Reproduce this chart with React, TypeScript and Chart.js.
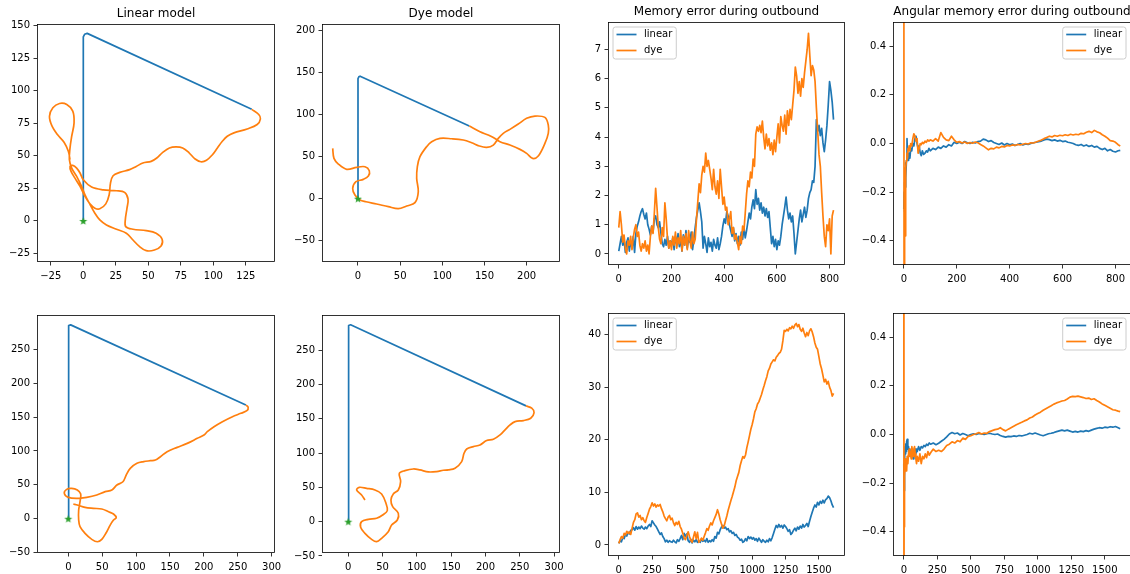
import React, { useEffect, useRef } from "react";
import { Chart, registerables } from "chart.js";

Chart.register(...registerables);

type Pt = [number, number];

// ---------- colours ----------
const C_LINEAR = "#1f77b4";
const C_DYE = "#ff7f0e";
const C_NEST = "#2ca02c";

// ---------- titles & series names ----------
const TITLES = ["Linear model", "Dye model", "Memory error during outbound", "Angular memory error during outbound"];
const SERIES_LABELS = ["linear", "dye"];

// ---------- nest position ----------
const nest: Pt[] = [[0, 0]];

// ---------- trajectories, run 1 ----------
const linearOutbound1: Pt[] = [[0, 0], [0, 141.5], [1, 143.5], [3, 144.2], [129.5, 85.8]];
const linearInbound1: Pt[] = [
  [129.5, 85.8], [134.9, 81.8], [136.2, 78.5], [133.7, 74.1], [126, 70.7], [115.8, 67.7], [110.7, 65.1],
  [106.9, 61.2], [103.1, 56.1], [99.3, 50.9], [94.7, 46.6], [90.4, 45.5], [86, 47.6], [81.5, 52.2],
  [76.4, 56.1], [71.3, 56.9], [66.2, 56.1], [61.1, 52.7], [56.5, 48.4], [52.2, 45.8], [45.8, 44.5],
  [40.7, 41.9], [35.6, 39.4], [28, 37.3], [22.9, 34.7], [20.9, 29.1], [19.9, 20.1], [17.3, 13.1],
  [12.7, 9.3], [8.9, 9.8], [5.1, 13.1], [1.3, 18.8], [-2.5, 26.5], [-6.4, 32.9], [-9.4, 38.1],
  [-10.2, 41.9], [-8.1, 42.7], [-5.1, 40.6], [-2.5, 36.8], [0, 31.6], [6.4, 26], [15.3, 23.9],
  [25.5, 23.2], [31.8, 21.9], [34.4, 16.7], [33.6, 9.8], [32.3, 0.8], [32.6, -4.4], [38.2, -6.4],
  [48.4, -7.5], [56, -9.5], [60.6, -14.1], [59.8, -19.3], [54.7, -22.4], [48.4, -22.9], [43.3, -19.8],
  [38.2, -14.7], [33.1, -9.5], [25.5, -6.4], [17.8, -3.1], [12.7, 0.8], [8.9, 5.9], [4.6, 13.6],
  [1.3, 20.1], [-1.3, 26.5], [-5.1, 34.2], [-8.9, 40.6], [-10.7, 47.1], [-10.2, 56.1], [-8.9, 65.1],
  [-7.1, 75.4], [-8.1, 84.4], [-12.7, 89.5], [-18.3, 90.3], [-23.4, 87], [-26, 80.5], [-24.2, 73.3],
  [-19.9, 66.4], [-14.8, 60.5], [-11.5, 53.5], [-10.2, 47.1],
];
const dyeOutbound1: Pt[] = [[0, 0], [0, 142.5], [1, 144.5], [2.5, 145.3], [132, 86.2]];
const dyeInbound1: Pt[] = [
  [132, 86.2], [144.7, 79.4], [154.5, 75.5], [160.5, 72.7], [168.4, 67.6], [180.2, 63.6], [192.1, 58.5],
  [200, 53.8], [207.1, 47.8], [213.8, 50.6], [221.7, 65.6], [225.7, 77.5], [225.7, 87.4], [221.7, 96.4],
  [209.9, 98], [200, 95.3], [190.1, 88.5], [180.2, 82.2], [172.3, 77.5], [166.4, 71.5], [160.5, 63.6],
  [152.6, 60.9], [143.9, 62.5], [134.8, 66.4], [124.9, 69.6], [111.1, 71.1], [97.2, 71.5], [87.4, 67.6],
  [81.4, 61.7], [73.5, 49.8], [70.4, 37.9], [69.6, 24.1], [71.5, 8.3], [67.6, -4.7], [57.7, -8.7],
  [47.8, -11.9], [36, -9.5], [22.1, -6.3], [9.5, -3.6], [2.4, -1.6], [-3.6, 4.3], [-6.3, 12.3],
  [-2.4, 20.2], [6.3, 22.9], [12.3, 26.9], [13.4, 33.2], [8.3, 37.9], [-1.6, 37.2], [-13.4, 34.8],
  [-23.3, 41.1], [-28.5, 47.8], [-30, 59.7],
];

// ---------- trajectories, run 2 ----------
const linearOutbound2: Pt[] = [[0, 0], [0, 283], [1, 285], [3.5, 286], [262, 167.8]];
const linearInbound2: Pt[] = [
  [262, 167.8], [265.4, 164.4], [263.5, 159.4], [254.6, 155.5], [242.2, 150.6], [227.4, 143.2], [215, 135.8],
  [205.1, 128.4], [200.2, 123.5], [190.3, 118.6], [175.5, 111.2], [160.7, 105.3], [145.8, 98.9], [135.9, 91.5],
  [128.5, 86.6], [121.1, 85.6], [111.2, 84.2], [101.3, 81.7], [91.4, 74.3], [85.5, 64.5], [80.6, 54.6],
  [71.7, 49.7], [64.3, 42.3], [54.4, 39.9], [42, 34.9], [27.2, 31.5], [12.4, 30], [0, 31.5], [-5.9, 37.4],
  [-2.5, 43.3], [4.9, 44.8], [13.3, 42.3], [18.3, 36.4], [17.3, 25.1], [15.3, 12.8], [15.3, -2],
  [17.3, -11.8], [24.7, -21.7], [34.6, -30.5], [43, -34], [49.4, -30.5], [55.9, -20.7], [61.8, -9.4],
  [66.7, -2], [70.7, 1.5], [66.7, 6.9], [59.3, 10.3], [49.4, 14.3], [37.1, 15.3], [24.7, 16.7],
  [13.3, 20.2], [7.4, 21.7],
];
const dyeOutbound2: Pt[] = [[0, 0], [0, 284], [1, 286], [3.4, 287], [259.1, 168.8]];
const dyeInbound2: Pt[] = [
  [259.1, 168.8], [267.4, 165.4], [270.8, 159], [265.9, 150.8], [255.2, 147.4], [243.1, 145.9], [235.8, 141.1],
  [228.5, 133.8], [221.2, 126.5], [211.5, 120.1], [201.7, 118.2], [192, 111.9], [182.3, 109.4], [172.6, 106],
  [168.7, 99.7], [165.3, 87.5], [155.6, 77.8], [145.8, 75.4], [138.6, 74.9], [128.8, 73], [116.7, 72.5],
  [104.5, 75.4], [94.8, 76.8], [82.6, 74.4], [74.4, 70.5], [76.3, 58.4], [72.9, 46.2], [65.6, 40.4],
  [62.2, 31.6], [64.7, 21.9], [72.9, 12.2], [71.5, 2.4], [63.2, -4.9], [58.3, -14.6], [48.6, -24.3],
  [41.3, -29.2], [34, -25.8], [24.3, -17], [18, -8.3], [19.4, 0], [29.2, 3.4], [41.3, 4.9], [50.1, 9.7],
  [56.9, 16.1], [54.9, 26.8], [48.6, 40.4], [38.9, 46.2], [26.7, 48.6], [16, 50.1], [12.2, 46.2],
  [19.4, 38.9], [24.3, 31.6],
];

// ---------- memory error, run 1 (one value every 5 steps) ----------
const MEM_STEP_1 = 5;
const memErrorLinear1 = [
  0.1, 0.35, 0.6, 0.3, 0.5, 0.05, 0.4, 0.55, 0.1, 0.45,
  0.2, 0.6, 0.05, 0.7, 0.95, 1.1, 1.3, 1.45, 1.55, 1.35,
  1.2, 1.4, 1.0, 0.85, 0.65, 0.95, 0.75, 1.2, 1.3, 1.0,
  0.9, 1.1, 0.7, 0.35, 0.25, 0.5, 0.3, 0.6, 0.2, 0.45,
  0.3, 0.55, 0.15, 0.6, 0.35, 0.7, 0.25, 0.5, 0.1, 0.65,
  0.3, 0.8, 0.2, 0.55, 0.4, 0.75, 0.15, 0.5, 0.9, 1.25,
  1.5, 1.75, 1.45, 1.1, 0.2, 0.6, 0.35, 0.05, 0.55, 0.25,
  0.4, 0.1, 0.5, 0.3, 0.2, 0.55, 0.15, 0.35, 0.6, 0.95,
  1.2, 1.05, 1.45, 1.3, 1.0, 0.8, 0.6, 0.9, 0.45, 0.7,
  0.35, 0.6, 0.3, 0.75, 0.5, 0.9, 0.55, 0.8, 1.1, 1.4,
  1.2, 1.6, 1.85, 1.55, 2.2, 1.7, 1.9, 1.5, 1.75, 1.4,
  1.6, 1.3, 1.55, 1.25, 1.45, 0.9, 0.35, 0.6, 0.25, 0.5,
  0.15, 0.45, 0.3, 0.6, 1.0, 1.3, 1.6, 1.95, 1.5, 1.2,
  1.4, 1.1, 1.3, 0.7, 0.0, 0.4, 0.8, 1.2, 1.5, 1.1,
  1.35, 1.6, 1.25, 1.5, 1.9, 2.1, 2.2, 2.5, 2.45, 3.0,
  4.6, 4.2, 4.4, 4.05, 4.3, 3.8, 3.5, 3.9, 4.4, 5.1,
  5.9, 5.6, 5.2, 4.6,
];
const memErrorDye1 = [
  0.9, 1.45, 1.0, 0.4, 0.65, 0.2, 0.0, 0.45, 0.3, 0.6,
  0.15, 0.55, 0.85, 1.0, 0.6, 0.75, 0.3, 0.1, 0.35, 0.2,
  0.45, 0.1, 0.3, 0.0, 0.6, 0.95, 0.7, 1.4, 2.25, 1.6,
  0.9, 0.5, 0.35, 0.9, 0.6, 1.75, 1.2, 0.5, 0.2, 0.45,
  0.15, 0.6, 0.3, 0.75, 0.2, 0.55, 0.35, 0.8, 0.1, 0.6,
  0.3, 0.7, 0.15, 0.8, 0.45, 0.2, 0.75, 0.35, 0.5, 1.2,
  1.8, 2.4, 2.1, 2.7, 3.0, 2.8, 3.45, 3.0, 3.2, 2.9,
  2.6, 2.2, 2.9, 2.3, 2.05, 2.5, 1.9, 2.9, 2.3, 1.7,
  1.95, 1.5, 1.6, 1.0, 1.2, 1.45, 0.7, 0.9, 0.5, 0.65,
  0.4, 0.15, 0.6, 0.35, 0.95, 0.8, 1.4, 2.05, 2.5, 2.3,
  2.8, 2.6, 3.25, 3.0, 4.1, 4.35, 4.2, 4.4, 4.15, 4.55,
  4.0, 3.6, 4.1, 3.7, 3.95, 3.55, 3.8, 3.4, 3.9, 3.5,
  4.0, 4.45, 3.8, 4.7, 4.4, 4.2, 4.75, 4.1, 4.9, 4.4,
  4.95, 4.6, 5.1, 5.6, 6.4, 6.1, 5.5, 5.9, 5.4, 6.0,
  5.7, 6.2, 6.6, 7.0, 7.55, 6.8, 6.1, 6.45, 6.3, 5.9,
  5.0, 4.2, 3.4, 3.0, 2.1, 1.3, 0.6, 0.25, 1.0, 0.8,
  1.2, 0.0, 1.3, 1.5,
];

// ---------- memory error, run 2 (one value every 10 steps) ----------
const MEM_STEP_2 = 10;
const memErrorLinear2 = [
  0.3, 0.8, 0.6, 1.4, 1.2, 2.0, 1.7, 2.4, 2.1, 2.8,
  2.9, 3.3, 2.8, 3.5, 3.0, 3.4, 3.1, 3.6, 3.2, 3.0,
  3.4, 3.1, 3.6, 3.9, 3.5, 4.6, 4.2, 3.8, 3.5, 3.0,
  2.5, 2.0, 2.3, 1.6, 1.2, 0.6, 0.9, 0.5, 0.8, 0.6,
  0.5, 0.9, 0.6, 0.4, 1.0, 0.7, 1.2, 1.8, 1.0, 2.2,
  1.6, 2.1, 0.8, 0.5, 1.1, 0.4, 0.9, 0.6, 1.0, 0.5,
  0.8, 0.5, 1.1, 0.7, 0.9, 0.6, 1.2, 0.5, 0.8, 0.6,
  1.0, 0.7, 1.6, 1.3, 2.4, 2.1, 2.9, 3.4, 3.7, 3.2,
  3.4, 2.9, 3.1, 2.5, 2.7, 2.2, 2.4, 1.8, 2.0, 1.5,
  1.3, 0.9, 1.1, 0.5, 0.7, 1.2, 0.8, 1.6, 1.2, 1.5,
  1.1, 1.4, 0.9, 1.2, 0.7, 1.3, 0.9, 0.5, 1.0, 0.7,
  0.5, 0.9, 0.6, 1.2, 0.8, 1.4, 2.2, 3.0, 3.7, 3.3,
  3.9, 3.4, 3.7, 3.2, 3.8, 3.5, 3.1, 2.6, 2.9, 2.0,
  2.3, 2.8, 3.2, 2.7, 3.4, 3.0, 3.6, 3.2, 3.9, 3.4,
  3.7, 4.1, 3.5, 4.5, 5.4, 6.2, 7.0, 7.6, 7.2, 8.1,
  7.6, 8.3, 7.9, 8.5, 8.0, 8.6, 8.8, 9.3, 9.0, 8.4,
  7.6, 7.1,
];
const memErrorDye2 = [
  0.3, 1.0, 1.6, 1.3, 2.2, 1.9, 2.6, 2.2, 2.5, 2.0,
  3.2, 4.3, 4.8, 5.9, 6.1, 5.3, 5.6, 4.8, 5.2, 4.6,
  4.3, 5.2, 6.0, 6.8, 7.3, 8.0, 7.4, 7.8, 7.2, 7.6,
  7.4, 7.7, 6.9, 6.3, 5.5, 5.0, 4.6, 5.3, 5.6, 4.8,
  5.1, 4.2, 3.7, 4.3, 3.9, 4.5, 3.5, 3.0, 2.2, 1.3,
  1.0, 1.8, 2.5, 1.6, 0.9, 0.5, 1.5, 2.5, 1.2, 2.4,
  0.5, 0.8, 1.3, 0.9, 1.6, 2.3, 3.1, 2.8, 3.6, 4.2,
  3.8, 4.6, 5.2, 5.8, 6.7, 5.9, 4.8, 4.0, 3.2, 3.6,
  4.6, 5.5, 6.6, 7.5, 8.4, 9.2, 10.1, 11.0, 12.2, 13.0,
  13.8, 15.1, 16.0, 16.8, 16.5, 17.1, 18.5, 19.6, 20.8, 22.0,
  22.9, 24.0, 25.3, 25.9, 26.8, 27.2, 27.9, 28.6, 29.5, 30.3,
  31.2, 32.0, 33.1, 33.6, 34.4, 34.8, 35.2, 35.0, 35.7, 36.0,
  36.4, 36.6, 37.2, 38.8, 40.8, 40.6, 41.0, 40.7, 41.3, 41.1,
  41.6, 41.2, 41.8, 42.1, 41.5, 41.9, 41.0, 40.6, 41.2, 40.3,
  39.6, 40.4, 39.8, 40.7, 41.1, 40.5, 39.6, 38.4, 37.6, 37.2,
  35.8, 34.4, 33.5, 32.3, 31.0, 31.5, 30.6, 31.1, 30.0, 29.4,
  28.3, 28.8,
];

// ---------- angular memory error, run 1 ----------
const angX1 = [
  0, 1, 2, 3, 4, 5, 6, 7, 8, 10, 12, 14, 16, 18, 20, 23, 26, 30, 34, 38, 42, 46, 50, 54, 58, 62, 66, 70, 75, 80, 85, 90, 95, 100,
  110, 120, 130, 140, 150, 160, 170, 180, 190,
  200, 210, 220, 230, 240, 250, 260, 270, 280, 290,
  300, 310, 320, 330, 340, 350, 360, 370, 380, 390,
  400, 410, 420, 430, 440, 450, 460, 470, 480, 490,
  500, 510, 520, 530, 540, 550, 560, 570, 580, 590,
  600, 610, 620, 630, 640, 650, 660, 670, 680, 690,
  700, 710, 720, 730, 740, 750, 760, 770, 780, 790,
  800, 810, 818,
];
const angErrorLinear1 = [
  -0.27, -0.2, -0.28, -0.16, -0.21, -0.12, -0.18, -0.08, -0.14, -0.07, 0.02, -0.06, -0.05, -0.07, -0.04, -0.06, -0.02,
  -0.03, 0.0, -0.01, 0.02, 0.03, 0.0, -0.02, -0.01, -0.04, -0.05, -0.03, -0.045, -0.04, -0.03, -0.035, -0.02, -0.03,
  -0.02, -0.025, -0.015, -0.02, -0.01, -0.015, -0.005, -0.01, 0.005,
  0.0, 0.005, 0.0, 0.008, 0.003, 0.0, 0.005, 0.002, 0.008, 0.01,
  0.018, 0.015, 0.008, 0.012, 0.004, 0.0, -0.004, 0.002, -0.006, 0.0,
  -0.005, -0.002, -0.008, -0.004, 0.0, -0.006, -0.002, -0.004, 0.0, 0.003,
  0.005, 0.008, 0.01, 0.015, 0.018, 0.016, 0.012, 0.015, 0.01, 0.013,
  0.008, 0.01, 0.005, 0.003, 0.0, -0.005, -0.008, -0.004, -0.01, -0.006,
  -0.012, -0.008, -0.015, -0.012, -0.02, -0.025, -0.02, -0.03, -0.025, -0.032,
  -0.035, -0.03, -0.028,
];
const angErrorDye1 = [
  1.2, -0.9, -0.7, -0.55, -0.3, -0.38, -0.22, -0.25, -0.1, -0.07, -0.04, -0.06, -0.02, -0.03, -0.01, -0.03, 0.0,
  -0.01, 0.02, 0.04, 0.03, 0.01, 0.02, -0.04, -0.02, 0.0, -0.005, 0.005, 0.0, 0.01, 0.005, 0.015, 0.01, 0.015,
  0.01, 0.02, 0.01, 0.045, 0.025, 0.015, 0.012, 0.03, 0.015,
  0.005, 0.008, 0.002, 0.006, 0.0, 0.004, 0.001, 0.006, 0.003, -0.004,
  -0.01, -0.018, -0.026, -0.02, -0.022, -0.015, -0.018, -0.012, -0.014, -0.008,
  -0.01, -0.006, -0.008, -0.004, -0.006, -0.003, 0.0, -0.002, 0.003, 0.002,
  0.006, 0.01, 0.014, 0.02, 0.025, 0.03, 0.027, 0.033, 0.03, 0.034,
  0.032, 0.036, 0.033, 0.038, 0.035, 0.038, 0.036, 0.042, 0.04, 0.046,
  0.05, 0.045, 0.054, 0.048, 0.044, 0.036, 0.03, 0.022, 0.012, 0.01,
  0.005, -0.005, -0.01,
];

// ---------- angular memory error, run 2 ----------
const angX2 = [
  0, 1, 2, 3, 4, 5, 6, 8, 10, 12, 15, 18, 21, 25, 30, 35, 40, 45, 50, 55, 60, 65, 70, 75, 80, 85, 90, 95, 100,
  110, 120, 130, 140, 150, 160, 170, 180, 190,
  200, 220, 240, 260, 280, 300, 320, 340, 360, 380,
  400, 420, 440, 460, 480, 500, 520, 540, 560, 580,
  600, 620, 640, 660, 680, 700, 720, 740, 760, 780,
  800, 820, 840, 860, 880, 900, 920, 940, 960, 980,
  1000, 1020, 1040, 1060, 1080, 1100, 1120, 1140, 1160, 1180,
  1200, 1220, 1240, 1260, 1280, 1300, 1320, 1340, 1360, 1380,
  1400, 1420, 1440, 1460, 1480, 1500, 1520, 1540, 1560, 1580,
  1600, 1615,
];
const angErrorLinear2 = [
  -0.12, -0.2, -0.23, -0.16, -0.1, -0.13, -0.07, -0.11, -0.05, -0.08, -0.04, -0.07, -0.03, -0.02, -0.06, -0.05,
  -0.08, -0.06, -0.09, -0.07, -0.06, -0.08, -0.1, -0.07, -0.09, -0.06, -0.08, -0.06, -0.07,
  -0.05, -0.065, -0.05, -0.055, -0.045, -0.05, -0.04, -0.045, -0.035,
  -0.04, -0.035, -0.042, -0.036, -0.028, -0.02, -0.01, 0.002, 0.008, 0.003,
  0.006, -0.002, 0.004, 0.0, -0.005, 0.0, 0.003, 0.0, 0.004, 0.002,
  0.0, 0.003, 0.005, 0.002, 0.0, 0.002, -0.004, -0.008, -0.011, -0.008,
  -0.009, -0.006, -0.008, -0.004, -0.006, -0.003, 0.0, 0.005, 0.002, 0.006,
  0.002, -0.002, -0.005, -0.001, 0.003, 0.005, 0.008, 0.012, 0.015, 0.018,
  0.015, 0.018, 0.014, 0.01, 0.013, 0.01, 0.014, 0.012, 0.016, 0.013,
  0.018, 0.022, 0.025, 0.028, 0.026, 0.03, 0.028, 0.032, 0.03, 0.033,
  0.028, 0.024,
];
const angErrorDye2 = [
  1.0, -0.9, -0.38, -0.25, -0.18, -0.22, -0.14, -0.17, -0.12, -0.15, -0.1, -0.13, -0.15, -0.09, -0.12, -0.08,
  -0.06, -0.09, -0.07, -0.1, -0.05, -0.07, -0.09, -0.06, -0.05, -0.08, -0.1, -0.12, -0.09,
  -0.11, -0.08, -0.12, -0.09, -0.1, -0.08, -0.095, -0.07, -0.085,
  -0.075, -0.06, -0.07, -0.065, -0.07, -0.06, -0.045, -0.04, -0.03, -0.035,
  -0.025, -0.03, -0.015, -0.02, -0.008, -0.005, 0.0, 0.003, 0.008, 0.002,
  0.006, 0.005, 0.012, 0.016, 0.02, 0.022, 0.028, 0.02, 0.015, 0.022,
  0.028, 0.034, 0.04, 0.045, 0.05, 0.056, 0.06, 0.068, 0.072, 0.08,
  0.086, 0.092, 0.1, 0.106, 0.112, 0.118, 0.125, 0.13, 0.134, 0.138,
  0.14, 0.146, 0.154, 0.157, 0.156, 0.158, 0.155, 0.152, 0.148, 0.15,
  0.144, 0.147, 0.14, 0.134, 0.126, 0.12, 0.114, 0.108, 0.102, 0.1,
  0.096, 0.094,
];

// ---------- tick values ----------
const ticksLinX1 = [-25, 0, 25, 50, 75, 100, 125];
const ticksLinY1 = [-25, 0, 25, 50, 75, 100, 125, 150];
const ticksDyeX1 = [0, 50, 100, 150, 200];
const ticksDyeY1 = [-50, 0, 50, 100, 150, 200];
const ticksMemX1 = [0, 200, 400, 600, 800];
const ticksMemY1 = [0, 1, 2, 3, 4, 5, 6, 7];
const ticksAngX1 = [0, 200, 400, 600, 800];
const ticksAngY = [-0.4, -0.2, 0, 0.2, 0.4];
const ticksTrajX2 = [0, 50, 100, 150, 200, 250, 300];
const ticksTrajY2 = [-50, 0, 50, 100, 150, 200, 250];
const ticksMemX2 = [0, 250, 500, 750, 1000, 1250, 1500];
const ticksMemY2 = [0, 10, 20, 30, 40];

// ---------- helpers ----------
const FONT = "'DejaVu Sans', 'Liberation Sans', sans-serif";
const AXIS_W = 40; // room for y tick labels
const AXIS_H = 22; // room for x tick labels
const PAD_R = 12;
const LINE_W = 1.7;

const toPoints = (pts: Pt[]) => pts.map(([x, y]) => ({ x, y }));
const stepSeries = (vals: number[], step: number) => vals.map((y, i) => ({ x: i * step, y }));
const zipSeries = (xs: number[], ys: number[]) => xs.map((x, i) => ({ x, y: ys[i] }));

const fmtTick = (v: number, decimals: number) => Number(v).toFixed(decimals).replace("-", "\u2212");

let starCache: HTMLCanvasElement | null = null;
function starMarker(): HTMLCanvasElement {
  if (starCache) return starCache;
  const r = 4.2;
  const size = 10;
  const c = document.createElement("canvas");
  c.width = size;
  c.height = size;
  const g = c.getContext("2d")!;
  g.fillStyle = C_NEST;
  g.beginPath();
  for (let i = 0; i < 10; i++) {
    const a = -Math.PI / 2 + (i * Math.PI) / 5;
    const rr = i % 2 === 0 ? r : r * 0.42;
    g.lineTo(size / 2 + rr * Math.cos(a), size / 2 + 0.4 + rr * Math.sin(a));
  }
  g.closePath();
  g.fill();
  starCache = c;
  return c;
}

const lineDataset = (label: string, data: any[], color: string, order: number, tension = 0) => ({
  label,
  data,
  showLine: true,
  borderColor: color,
  backgroundColor: color,
  borderWidth: LINE_W,
  pointRadius: 0,
  tension,
  borderJoinStyle: "round",
  order,
});

const trajectoryDatasets = (outbound: Pt[], inbound: Pt[]) => [
  {
    label: "nest",
    data: toPoints(nest),
    showLine: false,
    pointStyle: starMarker(),
    pointRadius: 4,
    order: 0,
    clip: false,
  },
  lineDataset("inbound", toPoints(inbound), C_DYE, 1, 0.35),
  lineDataset("outbound", toPoints(outbound), C_LINEAR, 2, 0),
];

const pairDatasets = (linear: any[], dye: any[]) => [
  lineDataset(SERIES_LABELS[1], dye, C_DYE, 1),
  lineDataset(SERIES_LABELS[0], linear, C_LINEAR, 2),
];

// axes frame on all four sides
const framePlugin = {
  id: "mplFrame",
  afterDatasetsDraw(chart: any) {
    const { ctx, chartArea: a } = chart;
    ctx.save();
    ctx.strokeStyle = "#000";
    ctx.lineWidth = 0.8;
    ctx.strokeRect(a.left + 0.5, a.top + 0.5, a.right - a.left - 1, a.bottom - a.top - 1);
    ctx.restore();
  },
};

// boxed legend drawn inside the plotting area
const legendPlugin = {
  id: "mplLegend",
  afterDatasetsDraw(chart: any, _args: any, opts: any) {
    if (!opts || !opts.corner) return;
    const { ctx, chartArea: a } = chart;
    const items = [
      { label: SERIES_LABELS[0], color: C_LINEAR },
      { label: SERIES_LABELS[1], color: C_DYE },
    ];
    ctx.save();
    ctx.font = `10px ${FONT}`;
    const textW = Math.max(...items.map((it) => ctx.measureText(it.label).width));
    const w = 31 + textW + 4;
    const h = 32;
    const x = opts.corner === "right" ? a.right - 5 - w : a.left + 5;
    const y = a.top + 5;
    const r = 2.5;
    ctx.beginPath();
    ctx.moveTo(x + r, y);
    ctx.lineTo(x + w - r, y);
    ctx.quadraticCurveTo(x + w, y, x + w, y + r);
    ctx.lineTo(x + w, y + h - r);
    ctx.quadraticCurveTo(x + w, y + h, x + w - r, y + h);
    ctx.lineTo(x + r, y + h);
    ctx.quadraticCurveTo(x, y + h, x, y + h - r);
    ctx.lineTo(x, y + r);
    ctx.quadraticCurveTo(x, y, x + r, y);
    ctx.closePath();
    ctx.fillStyle = "rgba(255,255,255,0.8)";
    ctx.fill();
    ctx.strokeStyle = "#cccccc";
    ctx.lineWidth = 1;
    ctx.stroke();
    items.forEach((it, i) => {
      const cy = y + 7.5 + i * 16;
      ctx.beginPath();
      ctx.moveTo(x + 3.5, cy);
      ctx.lineTo(x + 23.5, cy);
      ctx.strokeStyle = it.color;
      ctx.lineWidth = LINE_W;
      ctx.stroke();
      ctx.fillStyle = "#000";
      ctx.textBaseline = "middle";
      ctx.textAlign = "left";
      ctx.fillText(it.label, x + 31, cy);
    });
    ctx.restore();
  },
};

interface PanelSpec {
  key: string;
  box: [number, number, number, number];
  title?: string;
  xRange: [number, number];
  yRange: [number, number];
  xTicks: number[];
  yTicks: number[];
  xDecimals: number;
  yDecimals: number;
  datasets: any[];
  legend?: "left" | "right";
}

function axis(horizontal: boolean, range: [number, number], ticks: number[], decimals: number) {
  return {
    type: "linear",
    position: horizontal ? "bottom" : "left",
    min: range[0],
    max: range[1],
    afterBuildTicks: (s: any) => {
      s.ticks = ticks.map((v) => ({ value: v }));
    },
    afterFit: (s: any) => {
      if (horizontal) s.height = AXIS_H;
      else s.width = AXIS_W;
    },
    grid: {
      display: true,
      drawOnChartArea: false,
      drawTicks: true,
      tickLength: 3.5,
      tickWidth: 0.8,
      color: "#000",
    },
    border: { display: false },
    ticks: {
      padding: horizontal ? 4.5 : 3.5,
      color: "#000",
      font: { family: FONT, size: 10 },
      autoSkip: false,
      maxRotation: 0,
      minRotation: 0,
      callback: (v: any) => fmtTick(v, decimals),
    },
  };
}

function Panel({ spec }: { spec: PanelSpec }) {
  const ref = useRef<HTMLCanvasElement>(null);
  const top = spec.title ? 24 : 12;
  const [l, t, r, b] = spec.box;
  const w = r - l + AXIS_W + PAD_R;
  const h = b - t + top + AXIS_H;

  useEffect(() => {
    const chart = new Chart(ref.current as HTMLCanvasElement, {
      type: "scatter",
      data: { datasets: spec.datasets },
      options: {
        animation: false,
        responsive: false,
        devicePixelRatio: 1,
        events: [],
        layout: { padding: { left: 0, right: PAD_R, top: spec.title ? 0 : top, bottom: 0 } },
        plugins: {
          legend: { display: false },
          tooltip: { enabled: false },
          title: spec.title
            ? {
                display: true,
                text: spec.title,
                fullSize: false,
                color: "#000",
                font: { family: FONT, size: 12, weight: "normal" },
                padding: { top: 6.6, bottom: 3 },
              }
            : { display: false },
          mplLegend: spec.legend ? { corner: spec.legend } : {},
        },
        scales: {
          x: axis(true, spec.xRange, spec.xTicks, spec.xDecimals),
          y: axis(false, spec.yRange, spec.yTicks, spec.yDecimals),
        },
      } as any,
      plugins: [framePlugin, legendPlugin],
    } as any);
    return () => chart.destroy();
  }, []);

  return (
    <canvas
      ref={ref}
      width={w}
      height={h}
      style={{ position: "absolute", left: l - AXIS_W, top: t - top, width: w, height: h }}
    />
  );
}

const PANELS: PanelSpec[] = [
  {
    key: "traj-linear-1",
    box: [37, 24, 275, 262],
    title: TITLES[0],
    xRange: [-35.6, 147.4],
    yRange: [-31.6, 151.4],
    xTicks: ticksLinX1,
    yTicks: ticksLinY1,
    xDecimals: 0,
    yDecimals: 0,
    datasets: trajectoryDatasets(linearOutbound1, linearInbound1),
  },
  {
    key: "traj-dye-1",
    box: [322, 24, 560, 262],
    title: TITLES[1],
    xRange: [-42.7, 239.6],
    yRange: [-75.1, 207.2],
    xTicks: ticksDyeX1,
    yTicks: ticksDyeY1,
    xDecimals: 0,
    yDecimals: 0,
    datasets: trajectoryDatasets(dyeOutbound1, dyeInbound1),
  },
  {
    key: "mem-1",
    box: [608, 22, 845, 265],
    title: TITLES[2],
    xRange: [-40.9, 858.6],
    yRange: [-0.378, 7.94],
    xTicks: ticksMemX1,
    yTicks: ticksMemY1,
    xDecimals: 0,
    yDecimals: 0,
    datasets: pairDatasets(stepSeries(memErrorLinear1, MEM_STEP_1), stepSeries(memErrorDye1, MEM_STEP_1)),
    legend: "left",
  },
  {
    key: "ang-1",
    box: [893, 22, 1131, 265],
    title: TITLES[3],
    xRange: [-40.9, 858.6],
    yRange: [-0.5, 0.5],
    xTicks: ticksAngX1,
    yTicks: ticksAngY,
    xDecimals: 0,
    yDecimals: 1,
    datasets: pairDatasets(zipSeries(angX1, angErrorLinear1), zipSeries(angX1, angErrorDye1)),
    legend: "right",
  },
  {
    key: "traj-linear-2",
    box: [37, 315, 275, 553],
    xRange: [-46.2, 305],
    yRange: [-50.6, 300.6],
    xTicks: ticksTrajX2,
    yTicks: ticksTrajY2,
    xDecimals: 0,
    yDecimals: 0,
    datasets: trajectoryDatasets(linearOutbound2, linearInbound2),
  },
  {
    key: "traj-dye-2",
    box: [322, 315, 560, 553],
    xRange: [-38.3, 308.6],
    yRange: [-45.7, 301.3],
    xTicks: ticksTrajX2,
    yTicks: ticksTrajY2,
    xDecimals: 0,
    yDecimals: 0,
    datasets: trajectoryDatasets(dyeOutbound2, dyeInbound2),
  },
  {
    key: "mem-2",
    box: [608, 313, 845, 556],
    xRange: [-80.75, 1695.75],
    yRange: [-2.1, 44.1],
    xTicks: ticksMemX2,
    yTicks: ticksMemY2,
    xDecimals: 0,
    yDecimals: 0,
    datasets: pairDatasets(stepSeries(memErrorLinear2, MEM_STEP_2), stepSeries(memErrorDye2, MEM_STEP_2)),
    legend: "left",
  },
  {
    key: "ang-2",
    box: [893, 313, 1131, 556],
    xRange: [-80.75, 1695.75],
    yRange: [-0.5, 0.5],
    xTicks: ticksMemX2,
    yTicks: ticksAngY,
    xDecimals: 0,
    yDecimals: 1,
    datasets: pairDatasets(zipSeries(angX2, angErrorLinear2), zipSeries(angX2, angErrorDye2)),
    legend: "right",
  },
];

export default function App() {
  return (
    <div
      style={{
        position: "absolute",
        left: 0,
        top: 0,
        width: 1130,
        height: 574,
        overflow: "hidden",
        background: "#fff",
      }}
    >
      {PANELS.map((p) => (
        <Panel key={p.key} spec={p} />
      ))}
    </div>
  );
}
